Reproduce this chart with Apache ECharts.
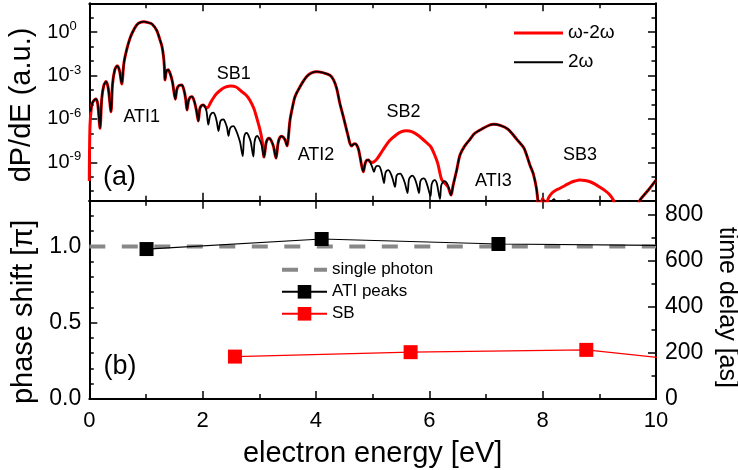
<!DOCTYPE html>
<html><head><meta charset="utf-8">
<script src="https://cdn.jsdelivr.net/npm/echarts@6/dist/echarts.min.js"></script>
<style>html,body{margin:0;padding:0;background:#fff}#c{width:738px;height:470px}</style>
</head><body><div id="c"></div>
<script>
// ---------- DATA ----------
// Panel (a): photoelectron spectrum, [energy eV, log10(dP/dE)]
const specW2w = [ // ω-2ω (red)
 [0.0,-10.3],[0.012,-6.5],[0.04,-5.1],[0.06,-4.85],[0.118,-4.62],[0.15,-5.0],[0.189,-6.65],[0.22,-4.6],[0.255,-3.7],[0.295,-3.42],[0.335,-3.9],[0.383,-5.5],
 [0.41,-3.6],[0.45,-2.6],[0.494,-2.33],[0.535,-2.7],[0.572,-3.58],[0.612,-2.1],[0.66,-1.2],[0.72,-0.4],[0.776,0.1],[0.836,0.5],[0.89,0.66],[0.965,0.73],
 [1.04,0.66],[1.11,0.55],[1.19,0.12],[1.245,-0.5],[1.283,-1.0],[1.31,-1.7],[1.325,-2.4],[1.336,-3.3],[1.36,-2.7],[1.39,-2.6],[1.43,-2.9],[1.47,-3.5],[1.518,-4.64],
 [1.545,-3.95],[1.58,-3.7],[1.63,-3.65],[1.67,-4.0],[1.70,-4.6],[1.724,-5.38],[1.75,-4.75],[1.78,-4.5],[1.812,-4.46],[1.85,-4.75],[1.89,-5.4],[1.923,-6.14],
 [1.95,-5.3],[1.98,-5.08],[2.012,-5.03],[2.04,-5.15],[2.086,-5.24],[2.13,-4.95],[2.165,-4.7],[2.236,-4.3],[2.324,-3.98],[2.412,-3.79],[2.50,-3.72],[2.589,-3.79],
 [2.677,-4.07],[2.765,-4.35],[2.836,-4.72],[2.906,-5.3],[2.96,-6.0],[3.012,-6.75],[3.05,-7.5],[3.083,-8.64],
 [3.12,-7.65],[3.15,-7.38],[3.176,-7.34],[3.21,-7.5],[3.25,-7.9],[3.295,-8.71],[3.33,-7.7],[3.36,-7.3],[3.395,-7.2],[3.43,-7.3],[3.46,-7.5],[3.489,-7.87],
 [3.542,-6.07],[3.59,-5.1],[3.63,-4.46],[3.718,-3.77],[3.836,-3.07],[3.92,-2.82],[4.013,-2.73],[4.12,-2.8],[4.247,-2.98],[4.31,-3.3],[4.366,-3.9],[4.42,-4.9],
 [4.482,-5.84],[4.53,-6.6],[4.57,-7.23],[4.60,-7.7],[4.63,-7.87],[4.66,-7.75],[4.69,-7.72],[4.718,-7.8],[4.75,-8.1],[4.777,-8.61],[4.835,-9.65],[4.87,-9.05],
 [4.90,-8.85],[4.924,-8.84],[4.95,-8.95],[4.99,-9.02],[5.03,-8.95],[5.07,-8.8],[5.14,-8.4],[5.218,-7.93],[5.30,-7.5],[5.424,-7.08],[5.50,-6.9],[5.59,-6.82],
 [5.69,-6.88],[5.806,-7.15],[5.953,-7.65],[6.03,-7.95],[6.10,-8.55],[6.15,-9.1],[6.19,-9.8],[6.218,-10.2],[6.277,-10.46],[6.33,-10.7],[6.383,-11.27],
 [6.42,-10.6],[6.483,-9.54],[6.541,-8.5],[6.62,-7.9],[6.72,-7.4],[6.80,-7.0],[6.95,-6.65],[7.07,-6.42],[7.13,-6.37],[7.25,-6.45],[7.39,-6.72],[7.54,-7.4],
 [7.659,-7.95],[7.70,-8.3],[7.776,-9.2],[7.835,-9.8],[7.89,-10.8],[7.94,-12.2],[7.97,-11.9],[8.0,-11.5],[8.03,-11.8],[8.059,-12.1],[8.09,-11.6],[8.112,-11.4],
 [8.165,-11.13],[8.218,-10.97],[8.306,-10.80],[8.394,-10.61],[8.483,-10.42],[8.571,-10.30],[8.659,-10.23],[8.747,-10.26],[8.835,-10.35],[8.924,-10.51],
 [9.012,-10.73],[9.10,-10.96],[9.171,-11.2],[9.247,-11.61],[9.31,-12.3],[9.45,-12.8],[9.65,-12.2],[9.718,-11.61],[9.865,-10.92],[10.0,-10.23]
];
const spec2w = [ // 2ω (black)
 [0.02,-5.5],[0.06,-4.85],[0.118,-4.62],[0.15,-5.0],[0.189,-6.65],[0.22,-4.6],[0.255,-3.7],[0.295,-3.42],[0.335,-3.9],[0.383,-5.5],
 [0.41,-3.6],[0.45,-2.6],[0.494,-2.33],[0.535,-2.7],[0.572,-3.58],[0.612,-2.1],[0.66,-1.2],[0.72,-0.4],[0.776,0.1],[0.836,0.5],[0.89,0.66],[0.965,0.73],
 [1.04,0.66],[1.11,0.55],[1.19,0.12],[1.245,-0.5],[1.283,-1.0],[1.31,-1.7],[1.325,-2.4],[1.336,-3.3],[1.36,-2.7],[1.39,-2.6],[1.43,-2.9],[1.47,-3.5],[1.518,-4.64],
 [1.545,-3.95],[1.58,-3.7],[1.63,-3.65],[1.67,-4.0],[1.70,-4.6],[1.724,-5.38],[1.75,-4.75],[1.78,-4.5],[1.812,-4.46],[1.85,-4.75],[1.89,-5.4],[1.923,-6.14],
 [1.95,-5.3],[1.98,-5.08],[2.012,-5.03],[2.04,-5.15],[2.07,-5.5],[2.100,-6.4],[2.13,-5.8],[2.16,-5.6],[2.19,-5.57],[2.22,-5.75],[2.25,-6.2],[2.28,-6.84],
 [2.31,-6.2],[2.34,-6.05],[2.37,-6.04],[2.40,-6.25],[2.43,-6.6],[2.456,-7.18],[2.48,-6.7],[2.51,-6.52],[2.545,-6.5],[2.58,-6.7],[2.62,-7.1],[2.66,-7.6],
 [2.707,-8.57],[2.73,-7.3],[2.755,-7.0],[2.78,-6.97],[2.81,-7.15],[2.85,-7.6],[2.894,-8.6],[2.915,-7.6],[2.94,-7.25],[2.965,-7.18],[2.995,-7.35],[3.04,-7.8],[3.083,-8.64],
 [3.12,-7.65],[3.15,-7.38],[3.176,-7.34],[3.21,-7.5],[3.25,-7.9],[3.295,-8.71],[3.33,-7.7],[3.36,-7.3],[3.395,-7.2],[3.43,-7.3],[3.46,-7.5],[3.489,-7.87],
 [3.542,-6.07],[3.59,-5.1],[3.63,-4.46],[3.718,-3.77],[3.836,-3.07],[3.92,-2.82],[4.013,-2.73],[4.12,-2.8],[4.247,-2.98],[4.31,-3.3],[4.366,-3.9],[4.42,-4.9],
 [4.482,-5.84],[4.53,-6.6],[4.57,-7.23],[4.60,-7.7],[4.63,-7.87],[4.66,-7.75],[4.69,-7.72],[4.718,-7.8],[4.75,-8.1],[4.777,-8.61],[4.835,-9.65],[4.87,-9.05],
 [4.90,-8.85],[4.924,-8.84],[4.95,-8.95],[4.99,-9.3],[5.024,-9.67],[5.05,-9.35],[5.08,-9.25],[5.112,-9.26],[5.14,-9.45],[5.17,-9.9],[5.20,-10.44],[5.225,-9.75],
 [5.25,-9.58],[5.28,-9.55],[5.31,-9.7],[5.35,-10.1],[5.394,-10.71],[5.42,-9.95],[5.447,-9.81],[5.49,-9.78],[5.52,-9.95],[5.57,-10.45],[5.615,-11.13],[5.64,-10.2],
 [5.67,-10.0],[5.703,-9.92],[5.74,-10.1],[5.78,-10.55],[5.818,-11.13],[5.84,-10.35],[5.87,-10.15],[5.906,-10.12],[5.94,-10.3],[5.98,-10.8],[6.021,-11.34],
 [6.04,-10.55],[6.07,-10.28],[6.10,-10.23],[6.135,-10.5],[6.188,-11.54],[6.21,-10.6],[6.245,-10.35],[6.277,-10.3],[6.31,-10.45],[6.35,-10.85],[6.383,-11.27],
 [6.42,-10.6],[6.483,-9.54],[6.541,-8.5],[6.62,-7.9],[6.72,-7.4],[6.80,-7.0],[6.95,-6.65],[7.07,-6.42],[7.13,-6.37],[7.25,-6.45],[7.39,-6.72],[7.54,-7.4],
 [7.659,-7.95],[7.70,-8.3],[7.776,-9.2],[7.835,-9.8],[7.89,-10.8],[7.94,-12.2],[7.98,-12.4],[8.015,-11.6],[8.04,-12.0],[8.07,-12.5],[8.13,-11.9],[8.20,-11.55],
 [8.25,-11.9],[8.33,-12.5],[8.42,-11.7],[8.47,-11.62],[8.52,-12.2],[8.6,-12.8],[9.0,-13.0],[9.5,-12.8],[9.65,-12.2],[9.718,-11.61],[9.865,-10.92],[10.0,-10.23]
];
// Panel (b): phase shift [π] vs energy
const atiEnergy = [1.01, 4.10, 7.22, 10.32];
const atiPhase  = [0.983, 1.049, 1.016, 1.006];
const sbEnergy  = [2.57, 5.67, 8.77, 11.87];
const sbPhase   = [0.278, 0.307, 0.322, 0.201];
const singlePhotonEnergy = [0, 10];
const singlePhotonPhase  = [1.0, 1.0];
// annotations in panel (a)
const peakNames = ['ATI1','SB1','ATI2','SB2','ATI3','SB3'];
const peakLabelX = [0.925, 2.55, 4.0, 5.545, 7.13, 8.66];
const peakLabelY = [-5.9, -2.89, -8.5, -5.55, -10.33, -8.5];
// tick labels
const energyTicks = [0, 2, 4, 6, 8, 10];
const logTicks = [0, -3, -6, -9];
const logMinorTicks = [1, -1, -2, -4, -5, -7, -8, -10, -11];
const phaseTicks = [0, 0.5, 1.0];
const phaseMinorTicks = [0.1, 0.2, 0.3, 0.4, 0.6, 0.7, 0.8, 0.9, 1.1, 1.2];
const delayTicks = [0, 200, 400, 600, 800];
const delayMinorTicks = [100, 300, 500, 700];

// ---------- CHART ----------
const FONT = '"Liberation Sans", Arial, sans-serif';
const chart = echarts.init(document.getElementById('c'), null, {renderer: 'canvas'});
const zip = (a, b) => a.map((v, i) => [v, b[i]]);
const lineOn = {show: true, onZero: false, lineStyle: {color: '#000', width: 2}};
const lineOff = {show: false, onZero: false};

function xAx(grid, pos, labels) {
  return {
    type: 'value', gridIndex: grid, position: pos, min: 0, max: 10, interval: 2,
    axisLine: lineOn, splitLine: {show: false},
    axisTick: {show: true, inside: true, length: 8, lineStyle: {color: '#000', width: 1.5}},
    minorTick: {show: true, splitNumber: 2, length: 5, lineStyle: {color: '#000', width: 1.5}},
    axisLabel: labels ? {show: true, margin: 11, fontSize: 22, fontFamily: FONT, color: '#000',
      customValues: energyTicks} : {show: false}
  };
}
function yAx(grid, pos, min, max, ticks, major, extra) {
  return Object.assign({
    type: 'value', gridIndex: grid, position: pos, min: min, max: max,
    axisLine: major ? lineOn : lineOff, splitLine: {show: false},
    axisTick: {show: true, inside: true, length: major ? 8 : 4.5, customValues: ticks, lineStyle: {color: '#000', width: 1.5}},
    axisLabel: {show: false}
  }, extra || {});
}
const annoLabel = (size) => ({show: true, position: 'inside', formatter: p => p.name, fontSize: size,
  fontFamily: FONT, color: '#000', textBorderWidth: 0, opacity: 1});

const G0 = {left: 89.3, right: 82, top: 3.3, height: 197.4, outerBoundsMode: 'none', containLabel: false};
const G1 = {left: 89.3, right: 82, top: 200.7, height: 198.3, outerBoundsMode: 'none', containLabel: false};
const LMIN = -11.66, LMAX = 2.0, DMAX = 862;

const option = {
  animation: false,
  backgroundColor: '#fff',
  textStyle: {fontFamily: FONT},
  grid: [G0, G1],
  xAxis: [
    xAx(0, 'bottom', false), xAx(0, 'top', false),
    Object.assign(xAx(1, 'bottom', true), {name: 'electron energy [eV]', nameLocation: 'middle', nameGap: 40,
      nameTextStyle: {fontSize: 29, fontFamily: FONT, color: '#000'}}),
    xAx(1, 'top', false)
  ],
  yAxis: [
    yAx(0, 'left', LMIN, LMAX, logTicks, true, {
      name: 'dP/dE (a.u.)', nameLocation: 'middle', nameGap: 50,
      nameTextStyle: {fontSize: 29, fontFamily: FONT, color: '#000', padding: [0, 6, 0, 0]},
      axisLabel: {show: true, customValues: logTicks, align: 'left', margin: 42,
        formatter: v => '{b|10}{s|' + Math.round(v) + '}',
        rich: {b: {fontSize: 20, fontFamily: FONT, color: '#000', lineHeight: 24},
               s: {fontSize: 13, fontFamily: FONT, color: '#000', lineHeight: 14, verticalAlign: 'top'}}}
    }),
    yAx(0, 'left', LMIN, LMAX, logMinorTicks, false),
    yAx(0, 'right', LMIN, LMAX, logTicks, true),
    yAx(0, 'right', LMIN, LMAX, logMinorTicks, false),
    yAx(1, 'left', 0, 1.3, phaseTicks, true, {
      name: 'phase shift [π]', nameLocation: 'middle', nameGap: 50,
      nameTextStyle: {fontSize: 29, fontFamily: FONT, color: '#000', padding: [0, 24, 0, 0]},
      axisLabel: {show: true, customValues: phaseTicks, margin: 8, fontSize: 23, fontFamily: FONT, color: '#000',
        formatter: v => v.toFixed(1)}
    }),
    yAx(1, 'left', 0, 1.3, phaseMinorTicks, false),
    yAx(1, 'right', 0, DMAX, delayTicks, true, {
      name: 'time delay [as]', nameLocation: 'middle', nameGap: 58, nameRotate: -90,
      nameTextStyle: {fontSize: 25, fontFamily: FONT, color: '#000', padding: [0, 0, 0, 15]},
      axisLabel: {show: true, customValues: delayTicks, margin: 9, fontSize: 23, fontFamily: FONT, color: '#000'}
    }),
    yAx(1, 'right', 0, DMAX, delayMinorTicks, false)
  ],
  legend: [
    {data: [{name: 'ω-2ω', icon: 'path://M0,0h49v3h-49z'}, {name: '2ω', icon: 'path://M0,0h49v2h-49z'}],
     orient: 'vertical', left: 509, top: 18, itemWidth: 49, itemHeight: 14, itemGap: 9.2,
     textStyle: {fontSize: 19, lineHeight: 20, fontFamily: FONT, color: '#000'}},
    {data: [{name: 'single photon', icon: 'path://M0,0h16v4h-16z M32,0h13v4h-13z'}, 'ATI peaks', 'SB'],
     orient: 'vertical', left: 276, top: 256.3, itemWidth: 45, itemHeight: 17, itemGap: 5,
     textStyle: {fontSize: 17, lineHeight: 16, fontFamily: FONT, color: '#000'}}
  ],
  series: [
    {name: 'ω-2ω', type: 'line', xAxisIndex: 0, yAxisIndex: 0, data: specW2w, symbol: 'none', smooth: 0.3,
     lineStyle: {color: '#ff0000', width: 3}, itemStyle: {color: '#ff0000'}, clip: true},
    {name: '2ω', type: 'line', xAxisIndex: 0, yAxisIndex: 0, data: spec2w, symbol: 'none', smooth: 0.3,
     lineStyle: {color: '#000', width: 1.8}, itemStyle: {color: '#000'}, clip: true},
    {name: 'peaks', type: 'scatter', xAxisIndex: 0, yAxisIndex: 0, symbolSize: 0, silent: true,
     data: peakNames.map((n, i) => ({name: n, value: [peakLabelX[i], peakLabelY[i]]})), label: annoLabel(18)},
    {name: 'panelA', type: 'scatter', xAxisIndex: 0, yAxisIndex: 0, symbolSize: 0, silent: true,
     data: [{name: '(a)', value: [0.533, -10.06]}], label: annoLabel(27)},
    {name: 'single photon', type: 'line', xAxisIndex: 2, yAxisIndex: 4, data: zip(singlePhotonEnergy, singlePhotonPhase),
     symbol: 'none', lineStyle: {color: '#888888', width: 4, type: [16, 16.5]}, itemStyle: {color: '#888888'}},
    {name: 'ATI peaks', type: 'line', xAxisIndex: 2, yAxisIndex: 4, data: zip(atiEnergy, atiPhase), clip: true,
     symbol: 'rect', symbolSize: 14, lineStyle: {color: '#000', width: 1.2}, itemStyle: {color: '#000'}},
    {name: 'SB', type: 'line', xAxisIndex: 2, yAxisIndex: 4, data: zip(sbEnergy, sbPhase), clip: true,
     symbol: 'rect', symbolSize: 14, lineStyle: {color: '#ff0000', width: 1.2}, itemStyle: {color: '#ff0000'}},
    {name: 'panelB', type: 'scatter', xAxisIndex: 2, yAxisIndex: 4, symbolSize: 0, silent: true,
     data: [{name: '(b)', value: [0.54, 0.213]}], label: annoLabel(27)}
  ]
};
chart.setOption(option);
</script></body></html>
